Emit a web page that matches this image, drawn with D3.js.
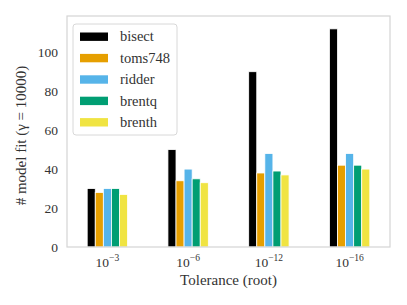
<!DOCTYPE html>
<html>
<head>
<meta charset="utf-8">
<script src="https://cdn.jsdelivr.net/npm/d3@7"></script>
<style>
  body { margin: 0; background: #fff; }
  svg text { font-family: "Liberation Serif", "Times New Roman", "DejaVu Serif", serif; fill: #333; }
</style>
</head>
<body>
<div id="wrapper"></div>
<script>
const tolerances = ["-3", "-6", "-12", "-16"]
const methods = ["bisect", "toms748", "ridder", "brentq", "brenth"]
const colors = ["#000000", "#E69F00", "#56B4E9", "#009E73", "#F0E442"]
const values = {
  bisect:  [30, 50, 90, 112],
  toms748: [28, 34, 38, 42],
  ridder:  [30, 40, 48, 48],
  brentq:  [30, 35, 39, 42],
  brenth:  [27, 33, 37, 40],
}
const yTicks = [0, 20, 40, 60, 80, 100]

const dimensions = {
  width: 407,
  height: 305,
  margin: { top: 16, right: 17, bottom: 58, left: 67 },
}
dimensions.boundedWidth = dimensions.width - dimensions.margin.left - dimensions.margin.right
dimensions.boundedHeight = dimensions.height - dimensions.margin.top - dimensions.margin.bottom

const svg = d3.select("#wrapper").append("svg")
  .attr("width", dimensions.width)
  .attr("height", dimensions.height)
  .attr("font-family", "Liberation Serif, serif")

const bounds = svg.append("g")
  .attr("transform", `translate(${dimensions.margin.left},${dimensions.margin.top})`)

const xScale = d3.scaleLinear()
  .domain([-0.5, 3.5])
  .range([0, dimensions.boundedWidth])

const yScale = d3.scaleLinear()
  .domain([0, 118.6])
  .range([dimensions.boundedHeight, 0])

const barWidth = 0.1

methods.forEach((m, i) => {
  bounds.selectAll(".bar-" + m)
    .data(values[m])
    .enter().append("rect")
    .attr("x", (d, j) => xScale(j + (i - 2.5) * barWidth))
    .attr("width", xScale(barWidth) - xScale(0))
    .attr("y", d => yScale(d))
    .attr("height", d => yScale(0) - yScale(d))
    .attr("fill", colors[i])
    .attr("stroke", "#fff")
    .attr("stroke-width", 0.8)
})

// frame
bounds.append("rect")
  .attr("width", dimensions.boundedWidth)
  .attr("height", dimensions.boundedHeight)
  .attr("fill", "none")
  .attr("stroke", "#d4d4d4")
  .attr("stroke-width", 1.2)

// y ticks
bounds.selectAll(".ytick")
  .data(yTicks)
  .enter().append("text")
  .attr("x", -9)
  .attr("y", d => yScale(d))
  .attr("dy", "0.35em")
  .attr("text-anchor", "end")
  .style("font-size", "13.5px")
  .text(d => d)

// x ticks
const xt = bounds.selectAll(".xtick")
  .data(tolerances)
  .enter().append("text")
  .attr("x", (d, i) => xScale(i))
  .attr("y", dimensions.boundedHeight + 20)
  .attr("text-anchor", "middle")
  .style("font-size", "13.5px")
xt.append("tspan").text("10")
xt.append("tspan")
  .attr("dy", -6)
  .style("font-size", "9.5px")
  .text(d => d.replace("-", "\u2212"))

// axis labels
bounds.append("text")
  .attr("x", dimensions.boundedWidth / 2)
  .attr("y", dimensions.boundedHeight + 38)
  .attr("text-anchor", "middle")
  .style("font-size", "15px")
  .text("Tolerance (root)")

bounds.append("text")
  .attr("transform", `translate(${-41},${dimensions.boundedHeight / 2 + 4}) rotate(-90)`)
  .attr("text-anchor", "middle")
  .style("font-size", "15px")
  .text("# model fit (\u03B3 = 10000)")

// legend
const legend = svg.append("g")
  .attr("transform", "translate(73,24)")

legend.append("rect")
  .attr("width", 104)
  .attr("height", 111)
  .attr("rx", 3)
  .attr("fill", "#fff")
  .attr("stroke", "#d8d8d8")
  .attr("stroke-width", 1)

const items = legend.selectAll(".item")
  .data(methods)
  .enter().append("g")
  .attr("transform", (d, i) => `translate(0,${12.7 + i * 21.4})`)

items.append("rect")
  .attr("x", 7)
  .attr("y", -4.2)
  .attr("width", 28)
  .attr("height", 8.4)
  .attr("fill", (d, i) => colors[i])

items.append("text")
  .attr("x", 47)
  .attr("dy", "0.33em")
  .style("font-size", "14.5px")
  .text(d => d)
</script>
</body>
</html>
